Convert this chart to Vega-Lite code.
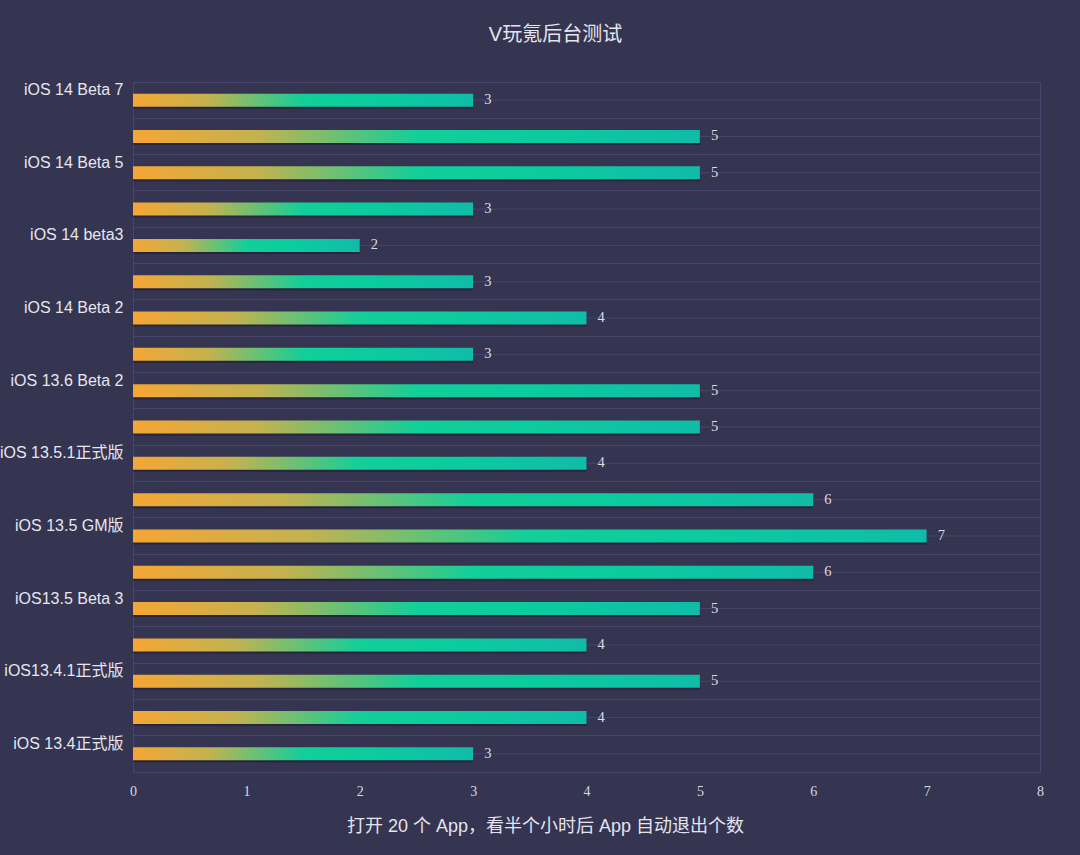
{
  "$schema": "https://vega.github.io/schema/vega-lite/v6.json",
  "width": 907,
  "height": 690,
  "autosize": {"type": "none"},
  "padding": {"left": 133, "top": 82, "right": 40, "bottom": 83},
  "background": "#353451",
  "config": {
    "view": {"stroke": "#47456c", "strokeWidth": 1},
    "font": "Liberation Sans, Noto Sans CJK SC"
  },
  "title": {
    "text": "V玩氪后台测试",
    "color": "#e4e4ee",
    "fontSize": 20,
    "fontWeight": "normal",
    "font": "Liberation Sans, Noto Sans CJK SC",
    "anchor": "middle",
    "dx": -31,
    "offset": 37
  },
  "data": {
    "values": [
      {"key": "iOS 14 Beta 7", "value": 3},
      {"key": "#2", "value": 5},
      {"key": "iOS 14 Beta 5", "value": 5},
      {"key": "#4", "value": 3},
      {"key": "iOS 14 beta3", "value": 2},
      {"key": "#6", "value": 3},
      {"key": "iOS 14 Beta 2", "value": 4},
      {"key": "#8", "value": 3},
      {"key": "iOS 13.6 Beta 2", "value": 5},
      {"key": "#10", "value": 5},
      {"key": "iOS 13.5.1正式版", "value": 4},
      {"key": "#12", "value": 6},
      {"key": "iOS 13.5 GM版", "value": 7},
      {"key": "#14", "value": 6},
      {"key": "iOS13.5 Beta 3", "value": 5},
      {"key": "#16", "value": 4},
      {"key": "iOS13.4.1正式版", "value": 5},
      {"key": "#18", "value": 4},
      {"key": "iOS 13.4正式版", "value": 3}
    ]
  },
  "encoding": {
    "y": {
      "field": "key",
      "type": "nominal",
      "sort": null,
      "scale": {"paddingInner": 0, "paddingOuter": 0},
      "axis": {
        "title": null,
        "bandPosition": 0,
        "grid": true,
        "gridColor": "#47456c",
        "gridWidth": 1,
        "ticks": false,
        "domain": false,
        "labelPadding": 10,
        "labelOffset": -10,
        "labelFontSize": 16,
        "labelColor": "#e6e6ee",
        "labelFont": "Liberation Sans, Noto Sans CJK SC",
        "labelExpr": "indexof(datum.label, '#') == 0 ? '' : datum.label"
      }
    }
  },
  "layer": [
    {
      "mark": {"type": "rule", "color": "#47456c", "strokeWidth": 1},
      "encoding": {}
    },
    {
      "mark": {"type": "bar", "size": 13, "color": "#1c1b30", "opacity": 0.55, "yOffset": 2, "x2Offset": 5},
      "encoding": {
        "x": {"field": "value", "type": "quantitative"}
      }
    },
    {
      "mark": {
        "type": "bar",
        "size": 13,
        "color": {
          "gradient": "linear",
          "x1": 0, "x2": 1, "y1": 0, "y2": 0,
          "stops": [
            {"offset": 0, "color": "#f5a634"},
            {"offset": 0.22, "color": "#c4b24f"},
            {"offset": 0.5, "color": "#12cf99"},
            {"offset": 0.7, "color": "#0bcc9e"},
            {"offset": 1, "color": "#10bca8"}
          ]
        }
      },
      "encoding": {
        "x": {
          "field": "value",
          "type": "quantitative",
          "scale": {"domain": [0, 8], "nice": false},
          "axis": {
            "title": "打开 20 个 App，看半个小时后 App 自动退出个数",
            "titleColor": "#e4e4ee",
            "titleFontSize": 18,
            "titleFontWeight": "normal",
            "titleFont": "Liberation Sans, Noto Sans CJK SC",
            "titleX": 412,
            "titleY": 54,
            "titleBaseline": "middle",
            "titleAnchor": "middle",
            "grid": false,
            "ticks": false,
            "domain": false,
            "values": [0, 1, 2, 3, 4, 5, 6, 7, 8],
            "format": "d",
            "labelOverlap": false,
            "labelPadding": 12,
            "labelFontSize": 14,
            "labelColor": "#d8d8e2",
            "labelFont": "Liberation Serif",
            "labelFlush": false
          }
        }
      }
    },
    {
      "mark": {
        "type": "text",
        "align": "left",
        "baseline": "middle",
        "dx": 11,
        "fontSize": 14.5,
        "font": "Liberation Serif",
        "color": "#dcdce6"
      },
      "encoding": {
        "x": {"field": "value", "type": "quantitative"},
        "text": {"field": "value", "type": "quantitative"}
      }
    }
  ]
}
